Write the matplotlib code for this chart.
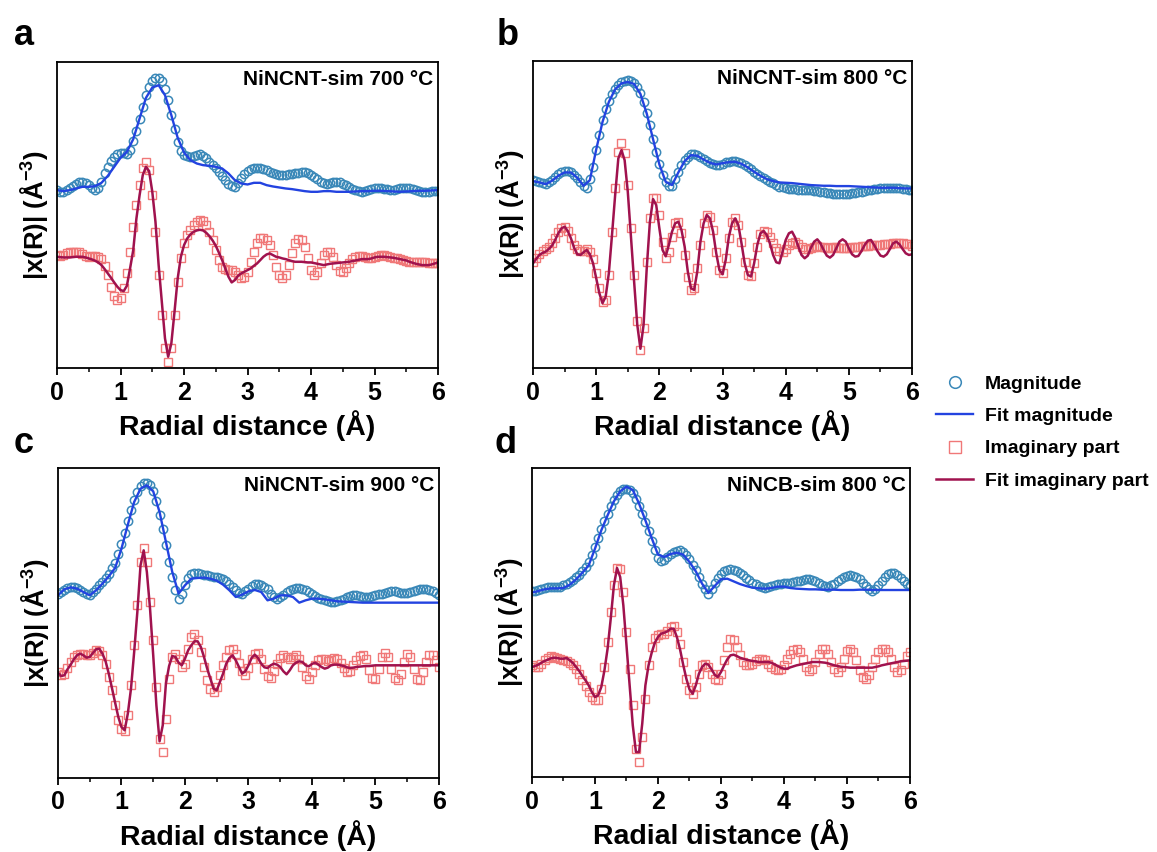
import matplotlib.pyplot as plt
import numpy as np
from matplotlib.ticker import MultipleLocator

plt.rcParams['font.family'] = ['Liberation Sans', 'DejaVu Sans']
plt.rcParams['font.weight'] = 'bold'
plt.rcParams['mathtext.fontset'] = 'custom'
plt.rcParams['mathtext.bf'] = 'Liberation Sans:bold'
plt.rcParams['mathtext.rm'] = 'Liberation Sans:bold'
plt.rcParams['mathtext.default'] = 'bf'

# sampling grids (Angstrom)
r_data = np.linspace(0, 6, 121)   # measured points, 0.05 A step
r_fit = np.linspace(0, 6, 61)     # magnitude fits, 0.1 A step

titles = ['NiNCNT-sim 700 °C', 'NiNCNT-sim 800 °C', 'NiNCNT-sim 900 °C', 'NiNCB-sim 800 °C']
letters = ['a', 'b', 'c', 'd']
ytop = [918, 922, 930, 927]   # arbitrary units, curves are offset

# ---- panel a ----
mag_a = [534, 529, 529, 534, 539, 546, 553, 558, 559, 556, 549, 539, 535, 541, 559, 584, 604, 621, 634, 642,
         645, 644, 641, 654, 681, 711, 747, 784, 819, 844, 862, 870, 871, 861, 839, 804, 761, 717, 677, 651,
         639, 635, 634, 637, 640, 641, 637, 629, 619, 609, 599, 587, 575, 563, 552, 546, 544, 554, 569, 581,
         591, 597, 600, 601, 600, 597, 594, 589, 584, 581, 579, 579, 579, 581, 582, 584, 585, 587, 587, 584,
         579, 573, 566, 559, 554, 553, 555, 558, 559, 557, 553, 549, 543, 538, 533, 530, 528, 530, 534, 537,
         539, 540, 539, 538, 537, 535, 534, 536, 539, 541, 541, 540, 538, 534, 531, 528, 527, 529, 531, 532, 532]
magfit_a = [534, 531, 534, 539, 544, 544, 546, 556, 577, 604, 631, 649, 687, 749, 811, 842, 849, 819, 759, 691,
            647, 624, 614, 609, 607, 604, 599, 584, 564, 554, 551, 556, 556, 549, 545, 542, 539, 537, 534, 531,
            529, 529, 531, 531, 529, 529, 529, 530, 531, 531, 532, 532, 531, 530, 529, 530, 531, 532, 532, 533, 534]
im_a = [339, 336, 339, 344, 347, 349, 349, 347, 341, 336, 334, 336, 336, 334, 327, 307, 279, 244, 217, 204,
        211, 239, 284, 349, 424, 489, 549, 599, 617, 594, 519, 409, 279, 159, 59, 19, 59, 159, 259, 329,
        374, 399, 414, 429, 439, 444, 441, 429, 409, 384, 354, 324, 304, 296, 294, 294, 289, 279, 271, 274,
        289, 319, 349, 374, 389, 391, 384, 369, 339, 304, 279, 269, 279, 309, 344, 374, 387, 384, 364, 329,
        294, 279, 289, 314, 339, 349, 349, 334, 309, 291, 289, 299, 314, 327, 334, 336, 336, 334, 331, 331,
        334, 337, 339, 339, 337, 334, 331, 329, 327, 324, 321, 319, 317, 317, 319, 319, 317, 314, 314, 314, 316]
imfit_a = [334, 333, 332, 332, 332, 333, 334, 334, 334, 332, 329, 326, 322, 317, 309, 297, 284, 271, 257, 244,
           234, 231, 247, 299, 354, 449, 519, 579, 604, 591, 529, 439, 309, 199, 89, 34, 74, 169, 269, 334,
           369, 389, 401, 409, 413, 415, 413, 406, 396, 383, 367, 346, 324, 299, 274, 257, 264, 277, 284, 289,
           294, 299, 307, 314, 324, 334, 341, 344, 339, 334, 332, 329, 327, 324, 321, 319, 319, 319, 318, 317,
           317, 315, 313, 311, 309, 311, 313, 314, 315, 316, 317, 318, 319, 321, 323, 325, 327, 327, 327, 329,
           332, 334, 334, 334, 333, 332, 331, 329, 327, 325, 323, 319, 316, 313, 311, 309, 309, 309, 311, 314, 317]

# ---- panel b ----
mag_b = [565, 563, 560, 556, 554, 558, 566, 574, 582, 588, 591, 592, 588, 580, 570, 558, 546, 542, 568, 605,
         655, 702, 745, 778, 802, 825, 840, 852, 860, 864, 865, 863, 858, 845, 827, 800, 767, 730, 690, 650,
         612, 580, 558, 547, 547, 567, 590, 610, 625, 635, 642, 644, 640, 634, 628, 622, 617, 613, 610, 610,
         614, 618, 620, 622, 622, 619, 615, 609, 603, 597, 590, 584, 578, 572, 565, 560, 555, 550, 545, 543,
         540, 539, 538, 537, 535, 535, 535, 535, 534, 533, 532, 530, 528, 527, 525, 523, 522, 522, 522, 523,
         524, 526, 527, 529, 530, 532, 534, 536, 538, 539, 540, 541, 542, 542, 542, 541, 540, 539, 537, 536, 534]
magfit_b = [562, 558, 553, 563, 578, 588, 588, 572, 548, 565, 657, 740, 800, 838, 856, 860, 854, 824, 765, 688,
            612, 560, 550, 588, 622, 640, 638, 627, 617, 612, 616, 619, 620, 614, 603, 590, 578, 568, 562, 558,
            557, 556, 554, 552, 550, 549, 548, 548, 547, 547, 547, 546, 545, 544, 543, 542, 542, 542, 541, 540, 540]
im_b = [320, 332, 344, 352, 358, 365, 375, 390, 410, 422, 425, 412, 390, 370, 357, 352, 352, 358, 350, 328,
        285, 240, 200, 205, 280, 410, 540, 650, 678, 645, 550, 420, 280, 140, 55, 120, 320, 450, 510, 512,
        460, 380, 332, 350, 395, 435, 440, 405, 340, 275, 235, 240, 300, 370, 435, 460, 455, 415, 350, 295,
        285, 330, 390, 440, 452, 430, 380, 320, 280, 278, 315, 365, 402, 412, 410, 395, 375, 360, 352, 350,
        358, 370, 377, 378, 372, 364, 358, 358, 362, 365, 366, 365, 363, 362, 362, 363, 363, 362, 360, 360,
        362, 364, 365, 365, 366, 367, 368, 369, 370, 370, 371, 372, 373, 374, 375, 375, 375, 375, 374, 372, 368]
imfit_b = [315, 328, 340, 346, 350, 358, 368, 385, 405, 420, 425, 412, 390, 362, 342, 340, 348, 355, 342, 315,
           270, 225, 195, 215, 285, 400, 520, 630, 655, 625, 530, 395, 260, 130, 58, 130, 300, 440, 508, 490,
           420, 355, 336, 370, 410, 435, 440, 415, 365, 290, 240, 235, 290, 380, 435, 460, 450, 410, 345, 295,
           282, 325, 395, 435, 450, 430, 375, 315, 280, 275, 315, 370, 405, 412, 400, 375, 340, 318, 315, 350,
           385, 405, 410, 392, 365, 340, 330, 338, 362, 380, 387, 375, 355, 338, 332, 340, 360, 380, 387, 380,
           360, 342, 335, 337, 352, 370, 383, 385, 370, 352, 338, 335, 342, 358, 375, 380, 372, 358, 345, 340, 342]

# ---- panel c ----
mag_c = [553, 558, 563, 569, 572, 573, 570, 564, 558, 553, 550, 558, 568, 578, 588, 600, 613, 630, 646, 673,
         703, 736, 770, 803, 833, 858, 876, 885, 886, 878, 860, 830, 790, 746, 698, 648, 603, 563, 536, 553,
         578, 600, 613, 616, 614, 612, 610, 608, 606, 604, 602, 599, 596, 591, 583, 573, 563, 554, 553, 560,
         568, 576, 581, 582, 580, 574, 566, 553, 543, 538, 542, 550, 558, 564, 568, 570, 570, 567, 563, 558,
         553, 546, 540, 536, 533, 530, 528, 528, 530, 534, 538, 543, 546, 548, 548, 546, 543, 542, 543, 545,
         548, 551, 553, 556, 558, 560, 560, 558, 556, 554, 554, 557, 560, 564, 566, 568, 568, 565, 560, 554, 548]
magfit_c = [548, 566, 572, 568, 558, 548, 563, 583, 605, 630, 688, 760, 828, 868, 878, 860, 798, 708, 618, 553,
            578, 598, 600, 601, 598, 592, 580, 563, 543, 550, 560, 564, 558, 533, 538, 548, 548, 543, 526, 533,
            538, 538, 536, 533, 530, 529, 528, 527, 526, 526, 526, 526, 526, 526, 526, 526, 526, 526, 526, 526, 526]
im_c = [318, 310, 313, 330, 348, 363, 370, 373, 373, 370, 368, 376, 383, 380, 368, 343, 303, 263, 218, 173,
        148, 140, 188, 278, 398, 518, 648, 690, 648, 528, 413, 273, 118, 78, 178, 298, 363, 373, 358, 333,
        343, 388, 423, 433, 413, 378, 333, 293, 266, 258, 273, 308, 338, 363, 383, 388, 373, 346, 320, 310,
        330, 356, 373, 376, 358, 328, 306, 300, 320, 343, 360, 368, 363, 358, 363, 370, 358, 333, 306, 298,
        318, 340, 353, 358, 356, 350, 353, 360, 358, 346, 330, 318, 320, 338, 353, 366, 370, 358, 323, 300,
        298, 326, 363, 376, 363, 328, 300, 293, 313, 348, 372, 363, 328, 298, 293, 318, 348, 368, 370, 353, 333]
imfit_c = [316, 306, 308, 326, 340, 356, 368, 373, 368, 361, 363, 375, 386, 388, 373, 350, 313, 270, 226, 183,
           153, 143, 193, 268, 378, 498, 638, 683, 618, 508, 368, 218, 110, 158, 283, 336, 366, 363, 346, 338,
           358, 383, 398, 410, 410, 393, 363, 328, 298, 268, 263, 288, 313, 343, 360, 368, 353, 333, 313, 320,
           338, 360, 370, 360, 343, 332, 330, 338, 343, 340, 333, 320, 311, 323, 338, 346, 350, 348, 338, 335,
           342, 346, 340, 333, 328, 331, 338, 340, 340, 338, 336, 332, 330, 331, 333, 334, 335, 336, 336, 337,
           338, 338, 338, 338, 338, 338, 338, 338, 338, 338, 338, 338, 338, 338, 338, 338, 338, 338, 338, 338, 338]

# ---- panel d ----
mag_d = [557, 559, 561, 564, 567, 569, 570, 570, 570, 571, 575, 579, 585, 591, 599, 607, 618, 630, 645, 665,
         690, 717, 743, 767, 790, 812, 832, 847, 857, 863, 865, 861, 853, 835, 812, 789, 765, 737, 707, 680,
         657, 648, 650, 660, 668, 675, 679, 680, 675, 665, 653, 637, 620, 600, 580, 563, 548, 565, 583, 597,
         609, 617, 621, 623, 622, 618, 613, 605, 597, 590, 583, 578, 573, 569, 567, 570, 573, 576, 579, 580,
         581, 582, 583, 585, 587, 589, 591, 593, 593, 591, 587, 582, 577, 573, 571, 575, 580, 588, 595, 600,
         603, 605, 604, 600, 593, 583, 573, 565, 559, 563, 575, 588, 600, 608, 612, 611, 605, 597, 587, 580, 575]
magfit_d = [553, 558, 563, 566, 566, 567, 577, 593, 613, 635, 685, 740, 785, 827, 857, 871, 861, 820, 770, 717,
            667, 660, 669, 673, 667, 645, 617, 580, 552, 573, 593, 595, 587, 579, 573, 568, 566, 565, 567, 571,
            571, 567, 565, 564, 563, 563, 562, 562, 562, 561, 561, 561, 562, 562, 561, 561, 561, 561, 561, 561, 561]
im_d = [335, 330, 330, 340, 350, 357, 362, 361, 357, 355, 352, 349, 343, 335, 323, 308, 290, 273, 255, 240,
        230, 230, 265, 330, 405, 495, 575, 627, 625, 555, 435, 325, 215, 85, 45, 120, 235, 335, 390, 417,
        427, 430, 430, 437, 450, 452, 435, 400, 345, 295, 260, 250, 270, 310, 335, 340, 330, 310, 295, 290,
        310, 350, 390, 413, 410, 390, 365, 345, 335, 335, 340, 347, 353, 355, 350, 340, 330, 323, 320, 323,
        335, 353, 370, 380, 383, 375, 355, 330, 317, 323, 345, 370, 383, 383, 370, 345, 323, 315, 330, 355,
        377, 385, 375, 350, 320, 300, 295, 305, 330, 355, 375, 385, 385, 375, 355, 330, 315, 320, 340, 363, 375]
imfit_d = [330, 333, 337, 343, 348, 352, 356, 358, 357, 355, 355, 357, 350, 342, 330, 318, 303, 290, 275, 255,
           240, 245, 270, 320, 385, 475, 575, 627, 600, 515, 395, 275, 155, 75, 75, 160, 275, 335, 373, 403,
           420, 430, 433, 437, 445, 445, 420, 383, 337, 295, 263, 250, 275, 310, 330, 340, 337, 323, 307, 300,
           315, 335, 353, 365, 367, 363, 358, 355, 352, 350, 348, 347, 345, 345, 345, 345, 343, 338, 333, 328,
           325, 325, 329, 332, 335, 337, 339, 341, 343, 345, 345, 345, 344, 343, 341, 338, 335, 333, 331, 330,
           329, 328, 328, 328, 328, 328, 328, 328, 328, 330, 332, 335, 337, 339, 341, 343, 345, 347, 348, 349, 350]

panels = [(mag_a, magfit_a, im_a, imfit_a),
          (mag_b, magfit_b, im_b, imfit_b),
          (mag_c, magfit_c, im_c, imfit_c),
          (mag_d, magfit_d, im_d, imfit_d)]

positions = [[0.0493, 0.568, 0.3293, 0.359],
             [0.4607, 0.568, 0.3276, 0.360],
             [0.0501, 0.0869, 0.3293, 0.3638],
             [0.4598, 0.0880, 0.3267, 0.3627]]
letter_xy = [(0.012, 0.979), (0.429, 0.979), (0.012, 0.500), (0.427, 0.500)]

c_mag = '#3a88b8'
c_magfit = '#2343e0'
c_im = '#f07878'
c_imfit = '#a0124e'

fig = plt.figure(figsize=(11.57, 8.52), dpi=100)

for i in range(4):
    mag, magfit, im, imfit = panels[i]
    ax = fig.add_axes(positions[i])
    h1, = ax.plot(r_data, mag, 'o', ms=6, mfc='none', mec=c_mag, mew=1.1, label='Magnitude')
    h2, = ax.plot(r_fit, magfit, '-', color=c_magfit, lw=1.7, label='Fit magnitude')
    h3, = ax.plot(r_data, im, 's', ms=5.8, mfc='none', mec=c_im, mew=1.0, label='Imaginary part')
    h4, = ax.plot(r_data, imfit, '-', color=c_imfit, lw=1.8, label='Fit imaginary part')
    ax.set_xlim(0, 6)
    ax.set_ylim(0, ytop[i])
    ax.xaxis.set_major_locator(MultipleLocator(1))
    ax.xaxis.set_minor_locator(MultipleLocator(0.5))
    ax.tick_params(axis='x', which='major', direction='out', length=5, width=1.3, labelsize=18, pad=4)
    ax.tick_params(axis='x', which='minor', direction='out', length=3, width=1.1)
    ax.set_yticks([])
    for s in ax.spines.values():
        s.set_linewidth(1.3)
    ax.set_xlabel('Radial distance (Å)', fontsize=20.5, fontweight='bold', labelpad=4)
    ax.set_ylabel('|x(R)| (Å$^{-3}$)', fontsize=18.5, fontweight='bold', labelpad=5)
    ax.text(0.988, 0.975, titles[i], transform=ax.transAxes, ha='right', va='top',
            fontsize=15, fontweight='bold')
    fig.text(letter_xy[i][0], letter_xy[i][1], letters[i], fontsize=26, fontweight='bold',
             ha='left', va='top')
    if i == 0:
        handles = [h1, h2, h3, h4]

fig.legend(handles, [h.get_label() for h in handles], loc='upper left',
           bbox_to_anchor=(0.794, 0.580), frameon=False, fontsize=14, numpoints=1,
           handlelength=1.9, handletextpad=0.6, labelspacing=0.75, markerscale=1.4)

fig.savefig('out.png', dpi=100)
